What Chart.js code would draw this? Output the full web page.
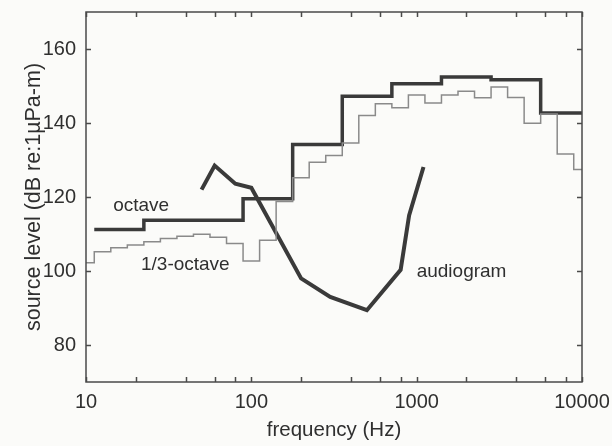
<!DOCTYPE html>
<html>
<head>
<meta charset="utf-8">
<script src="https://cdn.jsdelivr.net/npm/chart.js@4"></script>
<style>
html, body { margin: 0; padding: 0; background: #fbfbf9; }
</style>
</head>
<body>
<canvas id="myChart" width="612" height="446"></canvas>
<script>
// 1/3-octave band levels: nominal centre frequency (Hz) and level (dB)
const thirdCentres = [10, 12.5, 16, 20, 25, 31.5, 40, 50, 63, 80, 100, 125, 160, 200, 250, 315, 400, 500, 630, 800,
                      1000, 1250, 1600, 2000, 2500, 3150, 4000, 5000, 6300, 8000, 10000];
const thirdLevels = [102.2, 105.2, 106.3, 107.0, 107.9, 108.8, 109.4, 109.9, 109.1, 107.4, 102.7, 108.3, 118.8, 125.2,
                     129.4, 131.2, 134.6, 142.0, 145.2, 144.1, 147.6, 145.4, 147.6, 148.6, 146.8, 149.7, 146.9, 139.9,
                     142.4, 131.6, 127.4];

// octave band levels
const octCentres = [16, 31.5, 63, 125, 250, 500, 1000, 2000, 4000, 8000];
const octLevels = [111.2, 113.7, 113.7, 119.5, 134.2, 147.2, 150.6, 152.4, 151.7, 142.7];

// hearing threshold (audiogram)
const audioFreqs = [50, 60, 80, 100, 200, 300, 500, 800, 900, 1100];
const audioLevels = [122.0, 128.5, 123.6, 122.5, 98.0, 93.0, 89.4, 100.3, 115.0, 128.1];

// axis ticks
const xTicks = [10, 20, 40, 60, 80, 100, 200, 400, 600, 800, 1000, 2000, 4000, 6000, 8000, 10000];
const yTicks = [80, 100, 120, 140, 160];

// curve labels, anchored in data space (frequency, level)
const notes = [
    {text: 'octave', f: 14.6, v: 117.5},
    {text: '1/3-octave', f: 21.5, v: 101.8},
    {text: 'audiogram', f: 1000, v: 99.7}
];

const ink = '#2f2f2f';
const fontFamily = '"Liberation Sans", Arial, sans-serif';

// turn band centres + levels into step points (lower band edges, plus the last upper edge)
// hw is the half band width in decades: 0.05 for 1/3 octave, 0.15 for octave
function bandSteps(centres, levels, hw){
    const exact = centres.map(f => Math.pow(10, Math.round(Math.log10(f) / (2 * hw)) * 2 * hw));
    const pts = exact.map((fc, i) => ({x: fc * Math.pow(10, -hw), y: levels[i]}));
    pts.push({x: exact[exact.length - 1] * Math.pow(10, hw), y: levels[levels.length - 1]});
    return pts;
}

function isDecade(v){
    const l = Math.log10(v);
    return Math.abs(l - Math.round(l)) < 1e-9;
}

// frame, inward tick marks, curve labels
const frame = {
    id: 'frame',
    beforeDraw(chart){
        const ctx = chart.ctx;
        ctx.save();
        ctx.fillStyle = '#fbfbf9';
        ctx.fillRect(0, 0, chart.width, chart.height);
        ctx.restore();
    },
    afterDatasetsDraw(chart){
        const {ctx, chartArea: a, scales: {x, y}} = chart;
        const len = 5;
        ctx.save();
        ctx.strokeStyle = '#4a4a4a';
        ctx.lineWidth = 1.5;
        ctx.beginPath();
        x.ticks.forEach(t => {
            const px = Math.round(x.getPixelForValue(t.value)) + 0.5;
            ctx.moveTo(px, a.bottom); ctx.lineTo(px, a.bottom - len);
            ctx.moveTo(px, a.top); ctx.lineTo(px, a.top + len);
        });
        y.ticks.forEach(t => {
            const py = Math.round(y.getPixelForValue(t.value)) + 0.5;
            ctx.moveTo(a.left, py); ctx.lineTo(a.left + len, py);
            ctx.moveTo(a.right, py); ctx.lineTo(a.right - len, py);
        });
        ctx.stroke();
        ctx.strokeRect(a.left, a.top, a.right - a.left, a.bottom - a.top);

        ctx.fillStyle = ink;
        ctx.font = '19px ' + fontFamily;
        ctx.textAlign = 'left';
        ctx.textBaseline = 'middle';
        notes.forEach(n => {
            ctx.fillText(n.text, x.getPixelForValue(n.f), y.getPixelForValue(n.v));
        });
        ctx.restore();
    }
};

Chart.defaults.font.family = fontFamily;
Chart.defaults.color = ink;

const ctx = document.getElementById('myChart').getContext('2d');
const myChart = new Chart(ctx, {
    type: 'line',
    data: {
        datasets: [
        {
            label: '1/3-octave',
            data: bandSteps(thirdCentres, thirdLevels, 0.05),
            stepped: true,
            borderColor: '#8a8a8a',
            borderWidth: 1.5,
            pointRadius: 0
        },
        {
            label: 'octave',
            data: bandSteps(octCentres, octLevels, 0.15),
            stepped: true,
            borderColor: '#3a3a3a',
            borderWidth: 3.5,
            pointRadius: 0
        },
        {
            label: 'audiogram',
            data: audioFreqs.map((f, i) => ({x: f, y: audioLevels[i]})),
            borderColor: '#3a3a3a',
            borderWidth: 4,
            borderJoinStyle: 'miter',
            tension: 0,
            pointRadius: 0
        }]
    },
    options: {
        responsive: false,
        animation: false,
        layout: {padding: {top: 12, right: 30, left: 0, bottom: 0}},
        plugins: {legend: {display: false}, tooltip: {enabled: false}},
        scales: {
            x: {
                type: 'logarithmic',
                min: 10,
                max: 10000,
                afterBuildTicks: s => { s.ticks = xTicks.map(v => ({value: v})); },
                afterFit: s => { s.height = 64; s.paddingLeft = 0; s.paddingRight = 0; },
                grid: {display: false, drawTicks: false},
                border: {display: false},
                ticks: {
                    autoSkip: false,
                    maxRotation: 0,
                    padding: 8,
                    font: {size: 20},
                    callback: v => isDecade(v) ? String(v) : ''
                },
                title: {display: true, text: 'frequency (Hz)', font: {size: 20.5}, padding: {top: 0, bottom: 3}}
            },
            y: {
                min: 70,
                max: 170,
                afterBuildTicks: s => { s.ticks = yTicks.map(v => ({value: v})); },
                afterFit: s => { s.width = 86; s.paddingTop = 0; s.paddingBottom = 0; },
                grid: {display: false, drawTicks: false},
                border: {display: false},
                ticks: {padding: 10, font: {size: 20}},
                title: {display: true, text: 'source level (dB re:1µPa-m)', font: {size: 21.5}, padding: {top: 21, bottom: 0}}
            }
        }
    },
    plugins: [frame]
});
</script>
</body>
</html>
